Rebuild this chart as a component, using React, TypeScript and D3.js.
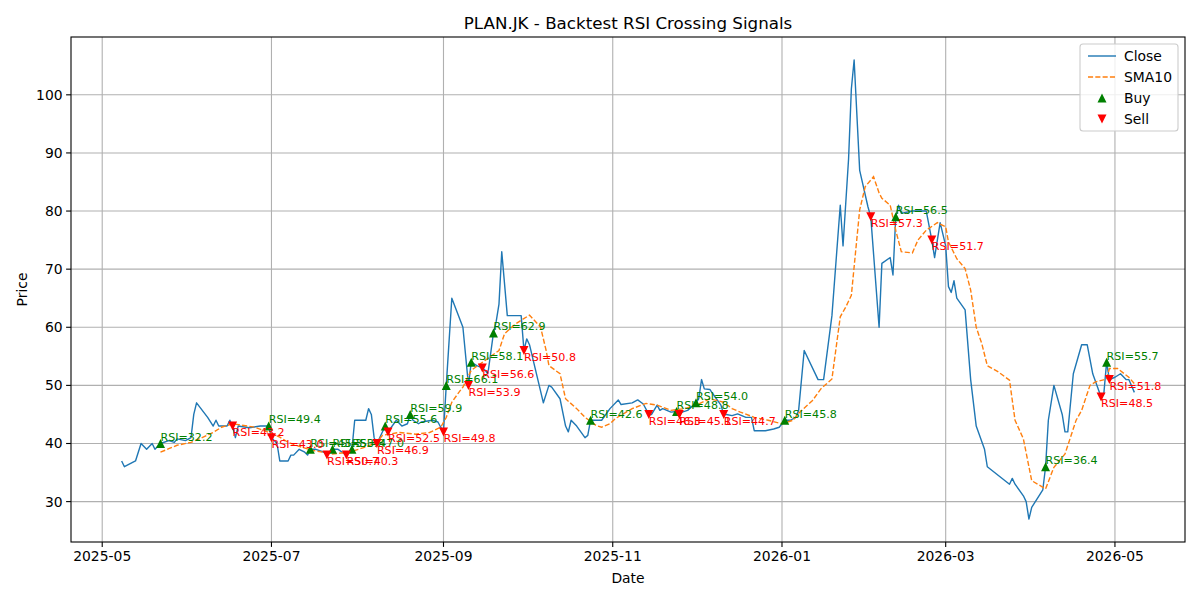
import React from 'react';
import * as d3 from 'd3';

const closeDates = [
  '2025-05-08','2025-05-09','2025-05-13','2025-05-15','2025-05-17','2025-05-19','2025-05-20','2025-05-22','2025-05-25','2025-05-27',
  '2025-05-28','2025-05-31','2025-06-02','2025-06-03','2025-06-04','2025-06-08','2025-06-10','2025-06-11','2025-06-12','2025-06-15',
  '2025-06-16','2025-06-17','2025-06-18','2025-06-19','2025-06-23','2025-06-27','2025-06-30','2025-07-01','2025-07-03','2025-07-04',
  '2025-07-07','2025-07-08','2025-07-09','2025-07-11','2025-07-13','2025-07-14','2025-07-15','2025-07-17','2025-07-20','2025-07-21',
  '2025-07-23','2025-07-25','2025-07-28','2025-07-30','2025-07-31','2025-08-03','2025-08-04','2025-08-05','2025-08-06','2025-08-07',
  '2025-08-08','2025-08-09','2025-08-11','2025-08-12','2025-08-15','2025-08-17','2025-08-19','2025-08-20','2025-08-21','2025-08-23',
  '2025-08-24','2025-08-28','2025-08-30','2025-08-31','2025-09-01','2025-09-02','2025-09-04','2025-09-08','2025-09-10','2025-09-11',
  '2025-09-13','2025-09-15','2025-09-16','2025-09-17','2025-09-19','2025-09-20','2025-09-21','2025-09-22','2025-09-24','2025-09-29',
  '2025-09-30','2025-10-01','2025-10-02','2025-10-07','2025-10-09','2025-10-10','2025-10-13','2025-10-15','2025-10-16','2025-10-17',
  '2025-10-19','2025-10-22','2025-10-23','2025-10-24','2025-10-28','2025-10-31','2025-11-03','2025-11-04','2025-11-08','2025-11-10',
  '2025-11-12','2025-11-14','2025-11-15','2025-11-17','2025-11-18','2025-11-19','2025-11-22','2025-11-24','2025-11-25','2025-11-26',
  '2025-11-28','2025-12-01','2025-12-02','2025-12-03','2025-12-04','2025-12-06','2025-12-07','2025-12-10','2025-12-11','2025-12-12',
  '2025-12-14','2025-12-16','2025-12-19','2025-12-21','2025-12-22','2025-12-26','2025-12-29','2025-12-31','2026-01-02','2026-01-04',
  '2026-01-06','2026-01-07','2026-01-09','2026-01-14','2026-01-16','2026-01-19','2026-01-22','2026-01-23','2026-01-25','2026-01-26',
  '2026-01-27','2026-01-29','2026-02-01','2026-02-02','2026-02-05','2026-02-06','2026-02-09','2026-02-10','2026-02-11','2026-02-12',
  '2026-02-13','2026-02-17','2026-02-20','2026-02-22','2026-02-24','2026-02-25','2026-02-27','2026-03-01','2026-03-02','2026-03-03',
  '2026-03-04','2026-03-05','2026-03-08','2026-03-10','2026-03-12','2026-03-15','2026-03-16','2026-03-24','2026-03-25','2026-03-26',
  '2026-03-29','2026-03-30','2026-03-31','2026-04-01','2026-04-05','2026-04-06','2026-04-07','2026-04-09','2026-04-12','2026-04-13',
  '2026-04-14','2026-04-16','2026-04-19','2026-04-21','2026-04-23','2026-04-26','2026-04-27','2026-04-28','2026-04-29','2026-05-01',
  '2026-05-03','2026-05-05','2026-05-06','2026-05-08',
];
const closeValues = [
  37, 36, 37, 40, 39, 40, 39, 40, 40.5, 40.2,
  40.8, 40.5, 41, 45, 47, 44.5, 43, 44, 43, 43,
  44, 43, 41, 43, 42.7, 43, 43, 41, 40, 37,
  37, 38, 38, 39, 38.5, 38, 39, 39, 38.5, 38,
  39, 39, 38, 39, 44, 44, 44, 46, 45, 41,
  40, 41, 43, 42, 44, 43, 43.4, 45, 44, 43.4,
  43.7, 44, 43.7, 42.8, 42, 50, 65, 60, 50, 54,
  53.4, 53, 52.6, 52, 59, 61, 64, 73, 62, 62,
  56, 58, 57, 47, 50, 49.7, 47.7, 43, 42, 44,
  43, 41, 41.4, 44, 44, 46, 47.5, 46.7, 47, 47.5,
  46.8, 45, 45, 46.6, 45.7, 46, 45.4, 45.5, 45, 45.4,
  45.7, 47, 47.7, 51, 49.4, 49.3, 48.6, 46.6, 45, 45,
  44.8, 45.1, 44.5, 44.5, 42.2, 42.2, 42.5, 42.8, 44, 44,
  44.5, 45.7, 56, 51, 51, 62, 81, 74, 89, 101,
  106, 87, 80.7, 79, 60, 71, 72, 69, 79, 81,
  79.6, 80, 80, 80, 75, 72, 78, 74, 67, 66,
  68, 65, 63, 51, 43, 39, 36, 33, 34, 33,
  31, 30, 27, 29, 32, 36, 44, 50, 45, 42,
  42, 52, 57, 57, 52, 48, 48.6, 54, 51, 51.4,
  52, 51, 51, 48.8,
];

const smaDates = [
  '2025-05-22','2025-05-25','2025-05-28','2025-06-02','2025-06-05','2025-06-10','2025-06-13','2025-06-17','2025-06-21','2025-06-25',
  '2025-06-30','2025-07-04','2025-07-07','2025-07-11','2025-07-16','2025-07-23','2025-07-29','2025-08-04','2025-08-08','2025-08-10',
  '2025-08-16','2025-08-22','2025-08-27','2025-08-31','2025-09-02','2025-09-04','2025-09-07','2025-09-08','2025-09-11','2025-09-16',
  '2025-09-21','2025-09-23','2025-09-27','2025-10-02','2025-10-06','2025-10-08','2025-10-09','2025-10-13','2025-10-15','2025-10-19',
  '2025-10-22','2025-10-26','2025-10-28','2025-10-31','2025-11-02','2025-11-08','2025-11-13','2025-11-17','2025-11-22','2025-11-27',
  '2025-12-02','2025-12-06','2025-12-11','2025-12-14','2025-12-17','2025-12-22','2025-12-27','2026-01-01','2026-01-05','2026-01-07',
  '2026-01-12','2026-01-15','2026-01-19','2026-01-22','2026-01-24','2026-01-26','2026-01-29','2026-01-31','2026-02-03','2026-02-05',
  '2026-02-06','2026-02-09','2026-02-11','2026-02-13','2026-02-17','2026-02-19','2026-02-22','2026-02-26','2026-03-01','2026-03-02',
  '2026-03-05','2026-03-08','2026-03-10','2026-03-12','2026-03-14','2026-03-16','2026-03-20','2026-03-24','2026-03-26','2026-03-29',
  '2026-04-01','2026-04-06','2026-04-09','2026-04-13','2026-04-17','2026-04-19','2026-04-22','2026-04-24','2026-04-28','2026-04-29',
  '2026-05-02','2026-05-06','2026-05-08',
];
const smaValues = [
  38.5, 39.1, 39.7, 40.2, 40.8, 41.9, 42.8, 43.4, 43.1, 42.8,
  41.9, 41.1, 40.2, 39.5, 38.8, 38.2, 38.5, 39.4, 40.2, 41.4,
  41.9, 41.6, 41.9, 42.8, 44.5, 47.1, 49.1, 49.7, 52.6, 54.3,
  56, 58.9, 60.6, 62.1, 60, 56, 53.4, 52, 47.7, 46,
  44.5, 43.1, 42.8, 43.4, 44.3, 46, 46.9, 46.6, 45.7, 46,
  46.8, 47.7, 47.1, 46, 45.4, 44.5, 44, 43.4, 44, 45.2,
  47.4, 49.4, 51.1, 61.8, 63.5, 65.5, 80.2, 84.2, 85.9, 83.1,
  82.2, 81, 76.7, 73, 72.8, 75, 76.7, 78, 77.3, 74.7,
  71.8, 70.1, 66.4, 60, 57.2, 53.4, 52.3, 50.9, 44, 40.8,
  33.6, 32.2, 35.9, 38.2, 44, 45.7, 50, 50.6, 51.1, 52.9,
  52.9, 51.4, 50.3,
];

const buyDates = [
  '2025-05-22','2025-06-30','2025-07-15','2025-07-23','2025-07-30','2025-08-11','2025-08-20','2025-09-02','2025-09-11','2025-09-19',
  '2025-10-24','2025-11-24','2025-12-01','2026-01-02','2026-02-11','2026-04-06','2026-04-28',
];
const buyRsi = [32.2, 49.4, 45.3, 53.8, 47.0, 55.6, 59.9, 66.1, 58.1, 62.9, 42.6, 48.8, 54.0, 45.8, 56.5, 36.4, 55.7];

const sellDates = [
  '2025-06-17','2025-07-01','2025-07-21','2025-07-28','2025-08-08','2025-08-12','2025-09-01','2025-09-10','2025-09-15','2025-09-30',
  '2025-11-14','2025-11-25','2025-12-11','2026-02-02','2026-02-24','2026-04-26','2026-04-29',
];
const sellRsi = [43.2, 43.0, 50.7, 40.3, 46.9, 52.5, 49.8, 53.9, 56.6, 50.8, 46.3, 45.1, 44.7, 57.3, 51.7, 48.5, 51.8];

const yTicks = [30, 40, 50, 60, 70, 80, 90, 100];
const xTickLabels = ['2025-05', '2025-07', '2025-09', '2025-11', '2026-01', '2026-03', '2026-05'];

const FONT = 'DejaVu Sans, Verdana, sans-serif';
const BLUE = '#1f77b4';
const ORANGE = '#ff7f0e';
const GREEN = '#008000';
const RED = '#ff0000';

export default function App() {
  const W = 1200, H = 600;
  const left = 71, right = 1185, top = 37, bottom = 542;
  const parse = d3.utcParse('%Y-%m-%d');
  const parseM = d3.utcParse('%Y-%m');
  const cd = closeDates.map((s) => parse(s) as Date);
  const [d0, d1] = d3.extent(cd) as [Date, Date];
  const span = d1.getTime() - d0.getTime();
  const x = d3.scaleUtc()
    .domain([new Date(d0.getTime() - 0.05 * span), new Date(d1.getTime() + 0.05 * span)])
    .range([left, right]);
  const ymin = d3.min(closeValues) as number;
  const ymax = d3.max(closeValues) as number;
  const yr = ymax - ymin;
  const y = d3.scaleLinear().domain([ymin - 0.05 * yr, ymax + 0.05 * yr]).range([bottom, top]);

  const closePts: [Date, number][] = cd.map((d, i) => [d, closeValues[i]]);
  const smaPts: [Date, number][] = smaDates.map((s, i) => [parse(s) as Date, smaValues[i]]);
  const line = d3.line<[Date, number]>().x((p) => x(p[0])).y((p) => y(p[1]));
  const priceAt = (s: string) => closeValues[closeDates.indexOf(s)];

  const tri = (cx: number, cy: number, up: boolean, r = 4.5) =>
    up
      ? `M${cx},${cy - r}L${cx - r},${cy + r}L${cx + r},${cy + r}Z`
      : `M${cx},${cy + r}L${cx - r},${cy - r}L${cx + r},${cy - r}Z`;

  const xt = xTickLabels.map((s) => ({ s, px: x(parseM(s) as Date) }));

  return (
    <div style={{ position: 'absolute', left: 0, top: 0 }}>
      <svg width={W} height={H} style={{ display: 'block', background: '#fff' }} fontFamily={FONT}>
        <rect x={0} y={0} width={W} height={H} fill="#fff" />
        <defs>
          <clipPath id="plot">
            <rect x={left} y={top} width={right - left} height={bottom - top} />
          </clipPath>
        </defs>
        {xt.map((t) => (
          <line key={'gx' + t.s} x1={t.px} x2={t.px} y1={top} y2={bottom} stroke="#b0b0b0" strokeWidth={1.1} />
        ))}
        {yTicks.map((v) => (
          <line key={'gy' + v} x1={left} x2={right} y1={y(v)} y2={y(v)} stroke="#b0b0b0" strokeWidth={1.1} />
        ))}
        <g clipPath="url(#plot)">
          <path d={line(closePts) || ''} fill="none" stroke={BLUE} strokeWidth={1.4} strokeLinejoin="round" />
          <path d={line(smaPts) || ''} fill="none" stroke={ORANGE} strokeWidth={1.4} strokeDasharray="5.1,2.2" />
          {buyDates.map((s, i) => {
            const px = x(parse(s) as Date), py = y(priceAt(s));
            return (
              <g key={'b' + i}>
                <path d={tri(px, py, true)} fill={GREEN} />
                <text x={px} y={py - 2.6} fontSize={11.1} fill={GREEN}>{`RSI=${buyRsi[i].toFixed(1)}`}</text>
              </g>
            );
          })}
          {sellDates.map((s, i) => {
            const px = x(parse(s) as Date), py = y(priceAt(s));
            return (
              <g key={'s' + i}>
                <path d={tri(px, py, false)} fill={RED} />
                <text x={px} y={py + 10.3} fontSize={11.1} fill={RED}>{`RSI=${sellRsi[i].toFixed(1)}`}</text>
              </g>
            );
          })}
        </g>
        <rect x={left} y={top} width={right - left} height={bottom - top} fill="none" stroke="#000" strokeWidth={1.1} />
        {xt.map((t) => (
          <g key={'tx' + t.s}>
            <line x1={t.px} x2={t.px} y1={bottom} y2={bottom + 4.9} stroke="#000" strokeWidth={1.1} />
            <text x={t.px} y={bottom + 19} fontSize={13.9} textAnchor="middle" fill="#000">{t.s}</text>
          </g>
        ))}
        {yTicks.map((v) => (
          <g key={'ty' + v}>
            <line x1={left - 4.9} x2={left} y1={y(v)} y2={y(v)} stroke="#000" strokeWidth={1.1} />
            <text x={left - 8.4} y={y(v) + 5} fontSize={13.9} textAnchor="end" fill="#000">{v}</text>
          </g>
        ))}
        <text x={(left + right) / 2} y={29} fontSize={16.7} textAnchor="middle" fill="#000">
          PLAN.JK - Backtest RSI Crossing Signals
        </text>
        <text x={(left + right) / 2} y={583} fontSize={13.9} textAnchor="middle" fill="#000">Date</text>
        <text transform={`translate(27,${(top + bottom) / 2}) rotate(-90)`} fontSize={13.9} textAnchor="middle" fill="#000">Price</text>
        <g>
          <rect x={1080} y={44} width={98} height={87} rx={3} fill="#fff" fillOpacity={0.8} stroke="#cccccc" strokeWidth={1.1} />
          <line x1={1088} x2={1116} y1={56} y2={56} stroke={BLUE} strokeWidth={1.4} />
          <text x={1124} y={61} fontSize={13.9} fill="#000">Close</text>
          <line x1={1088} x2={1116} y1={77} y2={77} stroke={ORANGE} strokeWidth={1.4} strokeDasharray="5.1,2.2" />
          <text x={1124} y={82} fontSize={13.9} fill="#000">SMA10</text>
          <path d={tri(1102, 98, true)} fill={GREEN} />
          <text x={1124} y={103} fontSize={13.9} fill="#000">Buy</text>
          <path d={tri(1102, 119, false)} fill={RED} />
          <text x={1124} y={124} fontSize={13.9} fill="#000">Sell</text>
        </g>
      </svg>
    </div>
  );
}
